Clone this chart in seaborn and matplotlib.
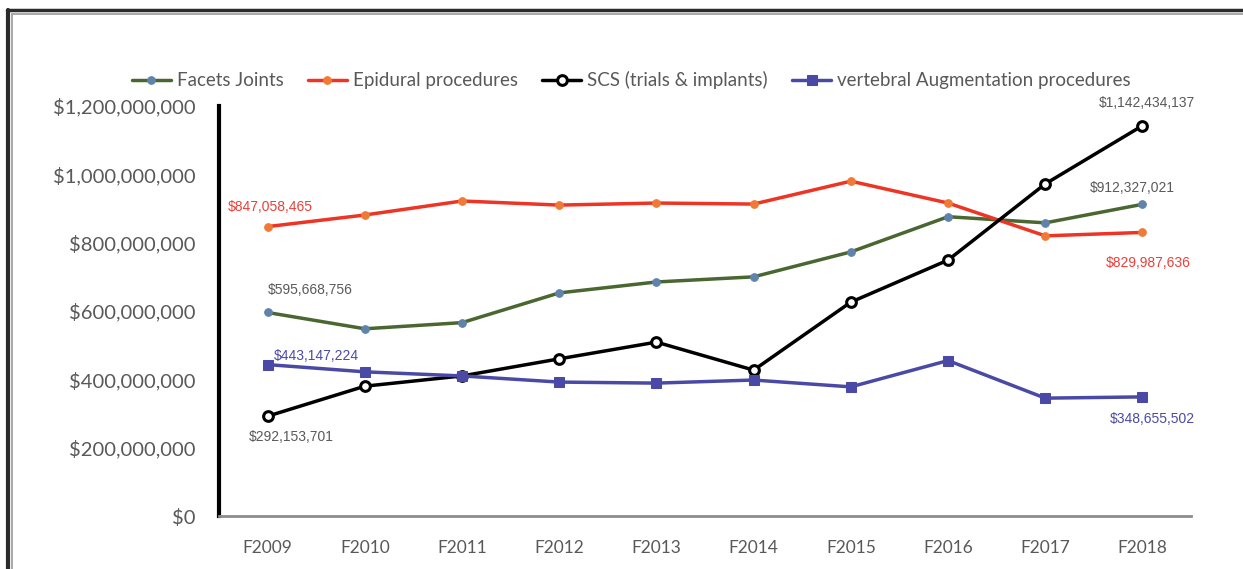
import matplotlib
matplotlib.use("Agg")
from matplotlib import pyplot as plt
from matplotlib.lines import Line2D
from matplotlib.ticker import FuncFormatter
import seaborn as sns

years = ["F2009", "F2010", "F2011", "F2012", "F2013",
         "F2014", "F2015", "F2016", "F2017", "F2018"]
facets = [595668756, 548e6, 566e6, 653e6, 685e6,
          700e6, 773e6, 876e6, 858e6, 912327021]
epidural = [847058465, 881e6, 922e6, 910e6, 916e6,
            913e6, 980e6, 916e6, 820e6, 829987636]
scs = [292153701, 380e6, 410e6, 460e6, 509e6,
       427e6, 626e6, 749e6, 972e6, 1142434137]
vertebral = [443147224, 422e6, 410e6, 392e6, 389e6,
             398e6, 378e6, 455e6, 345e6, 348655502]
names = ["Facets Joints", "Epidural procedures",
         "SCS (trials & implants)", "vertebral Augmentation procedures"]

sns.set_style("white")
plt.rcParams['font.family'] = ['Lato', 'DejaVu Sans']

fig = plt.figure(figsize=(12.43, 5.69), dpi=100)
ax = fig.add_axes([0.1762, 0.0931, 0.7820, 0.7206])

styles = [
    dict(color="#4a6631", marker="o", markersize=5.5, markerfacecolor="#5f83aa",
         markeredgecolor="#5f83aa"),
    dict(color="#ee3424", marker="o", markersize=5.5, markerfacecolor="#f07a35",
         markeredgecolor="#f07a35"),
    dict(color="black", marker="o", markersize=7, markerfacecolor="white",
         markeredgecolor="black", markeredgewidth=2.2),
    dict(color="#4a4aa6", marker="s", markersize=7, markerfacecolor="#4a4aa6",
         markeredgecolor="#4a4aa6"),
]
series = [facets, epidural, scs, vertebral]
x = list(range(len(years)))
for vals, name, st in zip(series, names, styles):
    sns.lineplot(x=x, y=vals, ax=ax, label=name, linewidth=2.5, **st)

ax.set_xlim(-0.5, 9.5)
ax.set_ylim(0, 1.2e9)
ax.set_xticks(x)
ax.set_xticklabels(years)
ax.set_yticks([0, 2e8, 4e8, 6e8, 8e8, 1e9, 1.2e9])
ax.yaxis.set_major_formatter(FuncFormatter(lambda v, p: "${:,.0f}".format(v)))
ax.tick_params(axis="both", colors="#595959", length=0)
ax.tick_params(axis="y", labelsize=14.5, pad=17)
ax.tick_params(axis="x", labelsize=12.5, pad=17)
for s in ["top", "right"]:
    ax.spines[s].set_visible(False)
ax.spines["left"].set_color("black")
ax.spines["left"].set_linewidth(3)
ax.spines["bottom"].set_color("#8c8c8c")
ax.spines["bottom"].set_linewidth(2)

leg = ax.legend(loc="lower center", bbox_to_anchor=(0.424, 1.0), ncol=4,
                frameon=False, fontsize=13.5, handlelength=2.1,
                columnspacing=1.3, handletextpad=0.3)
for t in leg.get_texts():
    t.set_color("#595959")

lab_font = dict(family=["Liberation Sans", "DejaVu Sans"], fontsize=10)
ann = [
    (0, epidural[0], "${:,}".format(847058465), "#e8403a", (2, 14)),
    (0, facets[0], "${:,}".format(595668756), "#595959", (31, 16)),
    (0, vertebral[0], "${:,}".format(443147224), "#4a4aa6", (35, 6)),
    (0, scs[0], "${:,}".format(292153701), "#595959", (17, -15)),
    (9, scs[9], "${:,}".format(1142434137), "#595959", (3, 16)),
    (9, facets[9], "${:,}".format(912327021), "#595959", (-7, 12)),
    (9, epidural[9], "${:,}".format(829987636), "#e8403a", (4, -22)),
    (9, vertebral[9], "${:,}".format(348655502), "#4a4aa6", (7, -16)),
]
for xi, yi, txt, col, off in ann:
    ax.annotate(txt, (xi, yi), xytext=off, textcoords="offset points",
                ha="center", va="center", color=col, **lab_font)

# outer frame (top and left edges)
fig.add_artist(Line2D([0.006, 1.0], [1 - 10 / 569, 1 - 10 / 569],
                      transform=fig.transFigure, color="#2b2b2b", lw=2.5))
fig.add_artist(Line2D([0.0065, 0.0065], [0.0, 1 - 10 / 569],
                      transform=fig.transFigure, color="#2b2b2b", lw=3))
fig.add_artist(Line2D([0.0095, 1.0], [1 - 13.5 / 569, 1 - 13.5 / 569],
                      transform=fig.transFigure, color="#9a9a9a", lw=1.2))
fig.add_artist(Line2D([0.0095, 0.0095], [0.0, 1 - 13.5 / 569],
                      transform=fig.transFigure, color="#9a9a9a", lw=1.2))

fig.savefig("out.png", dpi=100)
